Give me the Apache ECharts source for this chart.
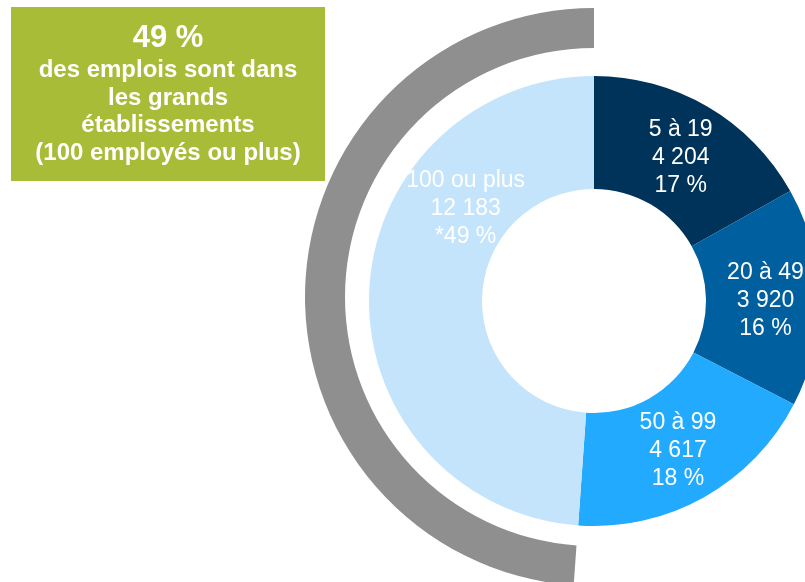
<!DOCTYPE html>
<html>
<head>
<meta charset="utf-8">
<script src="https://cdn.jsdelivr.net/npm/echarts@6/dist/echarts.min.js"></script>
<style>
  html, body { margin: 0; padding: 0; background: #fff; }
  #main { width: 805px; height: 582px; }
</style>
</head>
<body>
<div id="main"></div>
<script>
// données du graphique
var categories = ['5 à 19', '20 à 49', '50 à 99', '100 ou plus'];
var emplois = [4204, 3920, 4617, 12183];
var pourcentages = ['17 %', '16 %', '18 %', '*49 %'];
var couleurs = ['#003359', '#005f9e', '#22aaff', '#c4e4fc'];

var myChart = echarts.init(document.getElementById('main'));

function formatNombre(n) {
    return String(n).replace(/\B(?=(\d{3})+(?!\d))/g, ' ');
}

var data = categories.map(function (c, i) {
    return {
        name: c,
        value: emplois[i],
        itemStyle: { color: couleurs[i] }
    };
});

// arc gris autour de la tranche "100 ou plus"
var arcData = categories.map(function (c, i) {
    return {
        name: c,
        value: emplois[i],
        itemStyle: { color: i === 3 ? '#8f8f8f' : 'rgba(0,0,0,0)' }
    };
});

// petits décalages des étiquettes
var decalages = [[0, 5], [0, 3], [0, 0], [43, -86]];

var police = '"Liberation Sans", Arial, sans-serif';

var option = {
    backgroundColor: '#fff',
    animation: false,
    graphic: [
        {
            type: 'rect',
            shape: { x: 11, y: 7, width: 314, height: 174 },
            style: { fill: '#a8bc38' }
        },
        {
            type: 'text',
            style: {
                text: '49 %',
                x: 168, y: 38,
                align: 'center', verticalAlign: 'middle',
                fontSize: 31, fontWeight: 'bold', fontFamily: police,
                fill: '#fff'
            }
        },
        {
            type: 'text',
            style: {
                text: 'des emplois sont dans\nles grands\nétablissements\n(100 employés ou plus)',
                x: 168, y: 112,
                align: 'center', verticalAlign: 'middle',
                fontSize: 24, fontWeight: 'bold', fontFamily: police,
                lineHeight: 27.5,
                fill: '#fff'
            }
        }
    ],
    series: [
        {
            name: 'arc',
            type: 'pie',
            center: [594, 297],
            radius: [249, 289],
            startAngle: 90,
            silent: true,
            label: { show: false },
            labelLine: { show: false },
            data: arcData
        },
        {
            name: 'emplois',
            type: 'pie',
            center: [594, 301],
            radius: [112, 225],
            startAngle: 90,
            avoidLabelOverlap: false,
            label: {
                show: true,
                position: 'inside',
                color: '#fff',
                fontSize: 23,
                fontFamily: police,
                lineHeight: 28,
                align: 'center',
                formatter: function (p) {
                    return p.name + '\n' + formatNombre(p.value) + '\n' + pourcentages[p.dataIndex];
                }
            },
            labelLayout: function (params) {
                var d = decalages[params.dataIndex];
                return { dx: d[0], dy: d[1] };
            },
            data: data
        }
    ]
};
myChart.setOption(option);
</script>
</body>
</html>
